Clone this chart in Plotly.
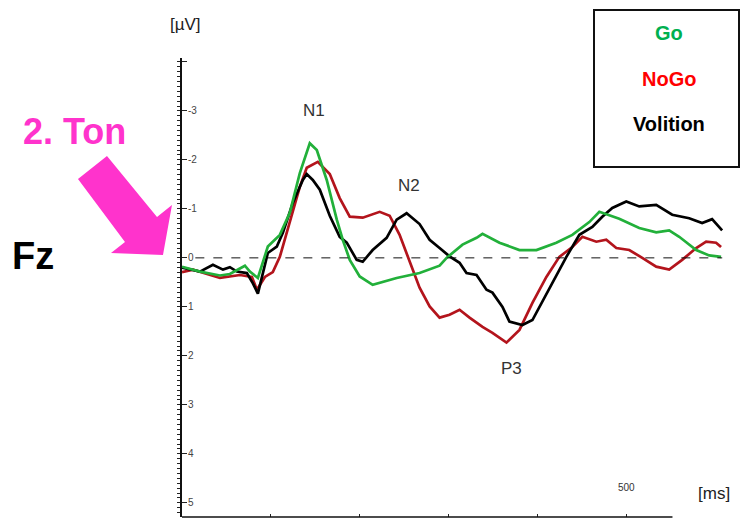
import plotly.graph_objects as go

# Event-related potentials at electrode Fz, amplitude in µV (negative drawn upward)
go_t = [0, 20.2, 42.7, 53.9, 70.8, 76.4, 85.4, 91.0, 96.6, 110.1, 121.3, 132.6, 143.8,
        151.7, 162.9, 174.2, 180.9, 188.8, 200.0, 214.6, 241.6, 267.4, 289.9, 297.8,
        315.7, 331.5, 338.2, 357.3, 379.8, 398.9, 421.3, 439.3, 458.4, 469.7, 492.1,
        514.6, 533.7, 548.3, 559.6, 578.7, 593.3, 606.7]
go_v = [0.18, 0.28, 0.36, 0.33, 0.16, 0.28, 0.41, 0.10, -0.23, -0.47, -0.92, -1.73, -2.34,
        -2.20, -1.59, -0.78, -0.37, 0.04, 0.38, 0.55, 0.41, 0.31, 0.16, 0.0,
        -0.27, -0.41, -0.49, -0.31, -0.16, -0.16, -0.31, -0.47, -0.73, -0.94, -0.80,
        -0.61, -0.52, -0.56, -0.43, -0.16, -0.05, -0.02]

nogo_t = [0, 12.4, 42.7, 65.2, 78.7, 84.3, 93.3, 102.2, 110.1, 121.3, 132.6, 140.4, 152.8,
          166.3, 177.5, 188.8, 203.4, 222.5, 233.7, 244.9, 256.2, 267.4, 278.7, 289.9,
          301.1, 312.4, 323.6, 338.2, 349.4, 365.2, 379.8, 394.4, 410.1, 424.7, 439.3,
          450.6, 466.3, 477.5, 488.8, 503.4, 518.0, 533.7, 548.3, 562.9, 578.7, 589.9,
          601.1, 606.7]
nogo_v = [0.29, 0.24, 0.41, 0.35, 0.39, 0.65, 0.39, 0.29, -0.02, -0.71, -1.45, -1.84, -1.96,
          -1.71, -1.22, -0.84, -0.82, -0.94, -0.86, -0.47, 0.08, 0.61, 0.99, 1.22,
          1.16, 1.06, 1.22, 1.41, 1.53, 1.73, 1.47, 0.92, 0.39, -0.02, -0.22,
          -0.43, -0.33, -0.37, -0.20, -0.16, 0.0, 0.18, 0.24, 0.04, -0.20, -0.33,
          -0.31, -0.22]

vol_t = [0, 20.2, 34.8, 46.1, 53.9, 61.8, 73.0, 79.8, 85.4, 91.0, 96.6, 106.7, 113.5, 124.7,
         136.0, 140.4, 147.2, 155.1, 166.3, 177.5, 185.4, 196.6, 203.4, 214.6, 230.3,
         241.6, 252.8, 267.4, 278.7, 289.9, 301.1, 312.4, 320.2, 331.5, 342.7, 349.4,
         360.7, 368.5, 383.1, 394.4, 402.2, 416.9, 432.6, 447.2, 461.8, 473.0, 484.3,
         500.0, 514.6, 533.7, 551.7, 570.8, 585.4, 596.6, 607.9]
vol_v = [0.20, 0.28, 0.14, 0.24, 0.19, 0.28, 0.31, 0.52, 0.73, 0.31, -0.10, -0.23, -0.51, -1.12,
         -1.59, -1.71, -1.59, -1.39, -0.86, -0.43, -0.31, 0.04, 0.08, -0.16, -0.41,
         -0.78, -0.91, -0.69, -0.37, -0.20, -0.03, 0.10, 0.31, 0.35, 0.65, 0.71,
         1.00, 1.30, 1.37, 1.27, 1.00, 0.51, -0.02, -0.47, -0.63, -0.84, -1.02,
         -1.15, -1.05, -1.08, -0.88, -0.81, -0.71, -0.79, -0.56]

y_ticks = [-4, -3, -2, -1, 0, 1, 2, 3, 4, 5]
y_tick_text = ["-4", "-3", "-2", "-1", "0", "1", "2", "3", "4", "5"]
x_ticks = [100, 200, 300, 400, 500]

# Component labels: (text, time in ms, amplitude in µV)
peaks = [("N1", 148, -3.0), ("N2", 255, -1.47), ("P3", 371, 2.25)]

FONT = "Liberation Sans, Arial, sans-serif"
W, H = 741, 519
L, R, T, B = 182, 17, 58, 2
PW, PH = W - L - R, H - T - B


def px(x):
    return (x - L) / PW


def py(y):
    return 1 - (y - T) / PH


def label(x, y, text, size, color, xref="paper", yref="paper"):
    fig.add_annotation(x=x, y=y, xref=xref, yref=yref, text=text, showarrow=False,
                       xanchor="center", yanchor="middle",
                       font=dict(size=size, color=color, family=FONT))


fig = go.Figure()
for t, v, col in [(nogo_t, nogo_v, "#b3141c"), (vol_t, vol_v, "#000000"),
                  (go_t, go_v, "#22b03a")]:
    fig.add_trace(go.Scatter(x=t, y=v, mode="lines",
                             line=dict(color=col, width=2.7), hoverinfo="skip"))

fig.update_layout(
    width=W, height=H, margin=dict(l=L, r=R, t=T, b=B),
    paper_bgcolor="white", plot_bgcolor="white", showlegend=False,
    font=dict(family=FONT),
    xaxis=dict(range=[0, 610], showgrid=False, zeroline=False, showline=False,
               tickvals=x_ticks, showticklabels=False, ticks="inside",
               ticklen=3, tickwidth=1, tickcolor="#222"),
    yaxis=dict(range=[5.29, -4.08], showgrid=False, zeroline=False,
               showline=True, linecolor="#111", linewidth=2,
               tickvals=y_ticks, ticktext=y_tick_text, ticks="inside",
               ticklen=5, tickwidth=1, tickcolor="#222",
               ticklabelposition="inside",
               tickfont=dict(size=10, color="#444", family=FONT),
               minor=dict(dtick=0.1, ticks="outside", ticklen=3,
                          tickwidth=1, tickcolor="#222")),
)

# zero reference line and time axis
fig.add_shape(type="line", xref="x", yref="y", x0=15, x1=608, y0=0, y1=0,
              line=dict(color="#111", width=1, dash="dash"))
fig.add_shape(type="line", xref="x", yref="paper", x0=0, x1=552, y0=0, y1=0,
              line=dict(color="#111", width=1.5))

for text, t, v in peaks:
    label(t, v, text, 17, "#333", xref="x", yref="y")

label(500, py(487), "500", 10, "#333", xref="x")
label(px(185), py(24), "[µV]", 17, "#222")
label(px(714), py(493), "[ms]", 17, "#222")

# legend box
fig.add_shape(type="rect", xref="paper", yref="paper",
              x0=px(594), x1=px(739), y0=py(167), y1=py(10),
              line=dict(color="#111", width=2), fillcolor="white")
for text, y, col in [("Go", 33, "#00b050"), ("NoGo", 79, "#ff0000"),
                     ("Volition", 124, "#000000")]:
    label(px(669), py(y), "<b>%s</b>" % text, 20, col)

# stimulus label and electrode name
label(px(74), py(131), "<b>2. Ton</b>", 36, "#ff33cc")
label(px(33), py(256), "<b>Fz</b>", 38, "#000000")

# block arrow pointing at the trace onset
arrow = [(78, 179), (107, 156), (157, 217), (172, 205), (163, 255), (111, 253), (125, 242)]
path = "M " + " L ".join("%.4f,%.4f" % (px(x), py(y)) for x, y in arrow) + " Z"
fig.add_shape(type="path", xref="paper", yref="paper", path=path,
              fillcolor="#ff33cc", line=dict(color="#ff33cc", width=0))

fig.write_html("out.html")
